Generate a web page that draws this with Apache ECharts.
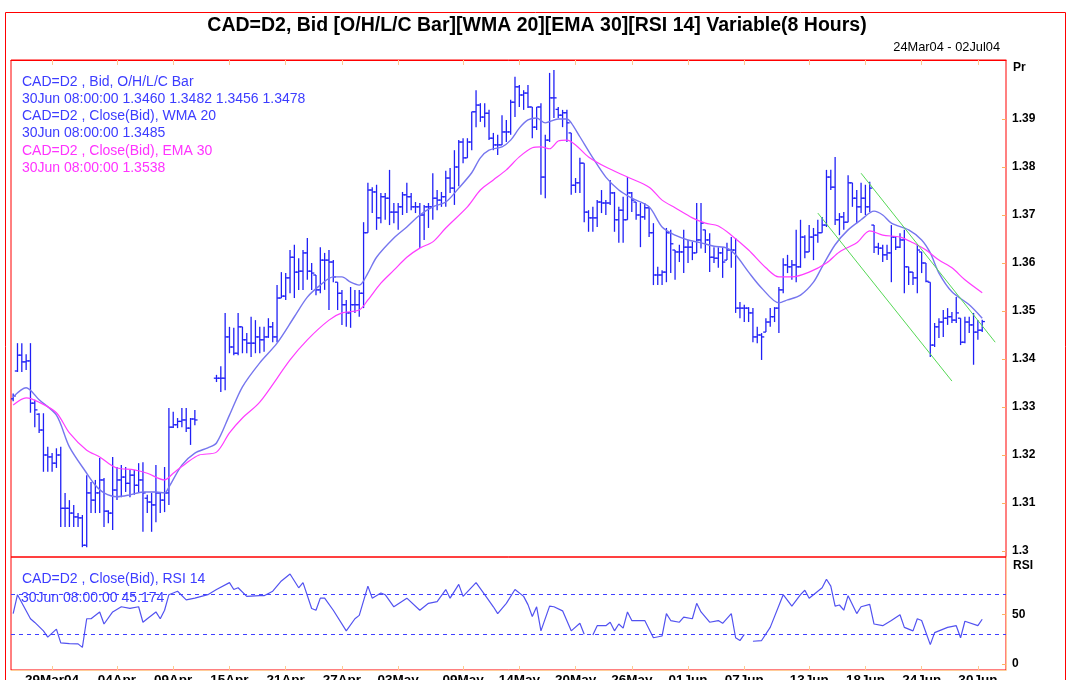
<!DOCTYPE html>
<html>
<head>
<meta charset="utf-8">
<script src="https://cdn.jsdelivr.net/npm/echarts@6/dist/echarts.min.js"></script>
<style>html,body{margin:0;padding:0;background:#fff}#c{width:1071px;height:680px}</style>
</head>
<body>
<div id="c"></div>
<script>
// ---------- DATA ----------
// 8-hour sessions: weekdays 00/08/16h, Sunday 16h only, none on Saturday
const firstBar = '2004-03-24T08:00:00Z';
const lastSlot = '2004-07-02T00:00:00Z';
const tickDays = ['2004-03-29','2004-04-04','2004-04-09','2004-04-15','2004-04-21','2004-04-27','2004-05-03','2004-05-09','2004-05-14','2004-05-20','2004-05-26','2004-06-01','2004-06-07','2004-06-13','2004-06-18','2004-06-24','2004-06-30'];
const tickLabels = ['29Mar04','04Apr','09Apr','15Apr','21Apr','27Apr','03May','09May','14May','20May','26May','01Jun','07Jun','13Jun','18Jun','24Jun','30Jun'];
const priceTicks = [1.3, 1.31, 1.32, 1.33, 1.34, 1.35, 1.36, 1.37, 1.38, 1.39];
const rsiTicks = [0, 50];
const rsiBands = [70, 30];

const open = [
1.3317,1.3375,1.3408,1.3394,1.3396,1.3308,1.3285,1.3252,1.3200,1.3196,
1.3183,1.3200,1.3089,1.3089,1.3079,1.3071,1.3069,1.3012,1.3121,1.3106,
1.3121,1.3148,1.3083,1.3079,1.3127,1.3148,1.3154,1.3141,1.3158,1.3137,
1.3148,1.3110,1.3102,1.3096,1.3121,1.3106,1.3121,1.3258,1.3263,1.3270,
1.3273,1.3256,1.3275,null,null,null,null,1.3360,1.3360,1.3360,
1.3446,1.3425,1.3412,1.3467,1.3440,1.3433,1.3433,1.3446,1.3440,1.3446,
1.3467,1.3446,1.3527,1.3531,1.3569,1.3612,1.3581,1.3583,1.3621,1.3583,
1.3575,1.3544,1.3606,1.3606,1.3602,1.3560,1.3537,1.3513,1.3496,1.3513,
1.3513,1.3537,1.3663,1.3752,1.3748,1.3694,1.3738,1.3735,1.3706,1.3706,
1.3717,1.3742,1.3738,1.3717,1.3717,1.3700,1.3717,1.3717,1.3735,1.3731,
1.3738,1.3777,1.3756,1.3800,1.3852,1.3819,1.3852,1.3915,1.3929,1.3904,
1.3912,1.3860,1.3846,1.3846,1.3873,1.3873,1.3935,1.3967,1.3950,1.3954,
1.3925,1.3883,1.3925,1.3779,1.3856,1.3944,1.3920,1.3908,1.3913,1.3871,
1.3762,1.3767,1.3808,1.3706,1.3694,1.3694,1.3727,1.3725,1.3725,1.3746,
1.3690,1.3710,1.3690,1.3746,1.3727,1.3700,1.3696,1.3715,1.3663,1.3575,
1.3575,1.3581,1.3663,1.3627,1.3623,1.3623,1.3633,1.3633,1.3621,1.3648,
1.3669,1.3648,1.3612,1.3610,1.3621,1.3606,1.3627,1.3627,1.3506,1.3506,
1.3506,1.3496,1.3446,1.3450,1.3456,1.3477,1.3488,1.3506,1.3544,1.3596,
1.3592,1.3596,1.3592,1.3654,1.3623,1.3654,1.3658,1.3663,1.3679,1.3779,
1.3758,1.3690,1.3696,1.3685,1.3767,1.3735,1.3717,1.3735,1.3717,1.3679,
1.3633,1.3631,1.3617,1.3621,1.3654,1.3633,1.3648,1.3592,1.3581,1.3569,
1.3623,1.3600,1.3560,1.3429,1.3467,1.3477,1.3485,1.3488,1.3481,1.3485,
1.3435,1.3477,1.3471,1.3456,1.3460];
const high = [
1.3328,1.3433,1.3433,1.3410,1.3433,1.3315,1.3287,1.3287,1.3217,1.3204,
1.3214,1.3217,1.3121,1.3106,1.3096,1.3079,1.3075,1.3158,1.3144,1.3148,
1.3194,1.3152,1.3085,1.3196,1.3175,1.3179,1.3175,1.3169,1.3169,1.3183,
1.3185,1.3117,1.3121,1.3179,1.3123,1.3175,1.3298,1.3290,1.3277,1.3298,
1.3298,1.3277,1.3294,null,null,null,null,1.3367,1.3385,1.3496,
1.3467,1.3465,1.3496,1.3467,1.3454,1.3488,1.3481,1.3467,1.3467,1.3485,
1.3477,1.3554,1.3581,1.3579,1.3627,1.3638,1.3610,1.3627,1.3652,1.3600,
1.3575,1.3633,1.3621,1.3627,1.3606,1.3560,1.3544,1.3523,1.3550,1.3544,
1.3544,1.3685,1.3767,1.3758,1.3763,1.3746,1.3746,1.3794,1.3725,1.3725,
1.3748,1.3767,1.3746,1.3727,1.3725,1.3721,1.3725,1.3787,1.3752,1.3748,
1.3792,1.3798,1.3835,1.3856,1.3860,1.3860,1.3915,1.3960,1.3933,1.3933,
1.3919,1.3871,1.3867,1.3908,1.3898,1.3940,1.3988,1.3971,1.3960,1.3971,
1.3925,1.3925,1.3933,1.3867,1.3996,1.4002,1.3925,1.3919,1.3919,1.3871,
1.3777,1.3819,1.3808,1.3710,1.3717,1.3731,1.3752,1.3731,1.3773,1.3748,
1.3717,1.3738,1.3779,1.3748,1.3727,1.3725,1.3725,1.3715,1.3683,1.3592,
1.3585,1.3673,1.3669,1.3627,1.3638,1.3669,1.3648,1.3644,1.3725,1.3725,
1.3669,1.3662,1.3633,1.3633,1.3633,1.3642,1.3654,1.3652,1.3519,1.3513,
1.3508,1.3506,1.3467,1.3454,1.3485,1.3506,1.3508,1.3550,1.3610,1.3617,
1.3606,1.3669,1.3690,1.3658,1.3679,1.3673,1.3690,1.3696,1.3794,1.3794,
1.3821,1.3704,1.3706,1.3783,1.3767,1.3752,1.3767,1.3763,1.3769,1.3679,
1.3642,1.3638,1.3638,1.3679,1.3654,1.3662,1.3669,1.3592,1.3581,1.3638,
1.3623,1.3600,1.3560,1.3475,1.3485,1.3502,1.3506,1.3498,1.3529,1.3485,
1.3488,1.3488,1.3496,1.3481,1.3482];
const low = [
1.3312,1.3373,1.3373,1.3377,1.3288,1.3258,1.3246,1.3165,1.3165,1.3165,
1.3173,1.3050,1.3050,1.3050,1.3050,1.3050,1.3008,1.3008,1.3079,1.3079,
1.3079,1.3050,1.3058,1.3044,1.3106,1.3112,1.3123,1.3112,1.3117,1.3121,
1.3040,1.3079,1.3040,1.3060,1.3079,1.3081,1.3096,1.3256,1.3256,1.3258,
1.3248,1.3221,1.3262,null,null,null,null,1.3352,1.3331,1.3335,
1.3412,1.3408,1.3408,1.3412,1.3412,1.3404,1.3412,1.3412,1.3415,1.3444,
1.3435,1.3435,1.3527,1.3523,1.3537,1.3527,1.3544,1.3544,1.3565,1.3544,
1.3533,1.3537,1.3544,1.3502,1.3560,1.3502,1.3471,1.3467,1.3465,1.3496,
1.3488,1.3506,1.3663,1.3704,1.3669,1.3683,1.3690,1.3679,1.3683,1.3669,
1.3700,1.3704,1.3710,1.3704,1.3631,1.3648,1.3673,1.3690,1.3710,1.3717,
1.3717,1.3746,1.3721,1.3760,1.3808,1.3819,1.3835,1.3883,1.3894,1.3883,
1.3856,1.3835,1.3825,1.3846,1.3852,1.3867,1.3904,1.3925,1.3919,1.3923,
1.3860,1.3877,1.3742,1.3735,1.3852,1.3902,1.3902,1.3883,1.3852,1.3742,
1.3746,1.3746,1.3685,1.3665,1.3665,1.3675,1.3704,1.3700,1.3721,1.3665,
1.3642,1.3642,1.3690,1.3706,1.3690,1.3633,1.3690,1.3654,1.3554,1.3554,
1.3554,1.3560,1.3579,1.3565,1.3602,1.3579,1.3600,1.3606,1.3621,1.3630,
1.3621,1.3581,1.3600,1.3590,1.3569,1.3606,1.3590,1.3496,1.3485,1.3477,
1.3477,1.3435,1.3433,1.3398,1.3456,1.3467,1.3477,1.3454,1.3537,1.3579,
1.3565,1.3560,1.3590,1.3610,1.3623,1.3606,1.3642,1.3663,1.3675,1.3752,
1.3679,1.3658,1.3669,1.3685,1.3717,1.3683,1.3704,1.3700,1.3706,1.3621,
1.3617,1.3602,1.3606,1.3560,1.3627,1.3631,1.3537,1.3554,1.3554,1.3537,
1.3579,1.3560,1.3404,1.3425,1.3444,1.3446,1.3471,1.3475,1.3475,1.3429,
1.3433,1.3454,1.3388,1.3440,1.3456];
const close = [
1.3323,1.3408,1.3394,1.3396,1.3308,1.3294,1.3252,1.3200,1.3196,1.3183,
1.3200,1.3089,1.3089,1.3079,1.3071,1.3069,1.3012,1.3121,1.3106,1.3121,
1.3148,1.3083,1.3079,1.3127,1.3148,1.3154,1.3141,1.3158,1.3137,1.3148,
1.3121,1.3102,1.3096,1.3121,1.3106,1.3121,1.3258,1.3263,1.3270,1.3273,
1.3256,1.3275,1.3273,null,null,null,null,1.3360,1.3360,1.3446,
1.3425,1.3412,1.3467,1.3440,1.3433,1.3433,1.3446,1.3440,1.3446,1.3467,
1.3446,1.3527,1.3531,1.3569,1.3612,1.3581,1.3583,1.3621,1.3583,1.3579,
1.3544,1.3606,1.3606,1.3602,1.3571,1.3537,1.3513,1.3496,1.3513,1.3513,
1.3537,1.3663,1.3752,1.3748,1.3694,1.3738,1.3735,1.3706,1.3706,1.3717,
1.3742,1.3738,1.3717,1.3717,1.3700,1.3717,1.3717,1.3735,1.3731,1.3738,
1.3777,1.3756,1.3800,1.3852,1.3819,1.3852,1.3915,1.3929,1.3904,1.3912,
1.3860,1.3846,1.3846,1.3873,1.3873,1.3935,1.3967,1.3950,1.3954,1.3925,
1.3883,1.3925,1.3779,1.3856,1.3944,1.3944,1.3908,1.3913,1.3892,1.3762,
1.3767,1.3808,1.3706,1.3694,1.3694,1.3727,1.3725,1.3725,1.3746,1.3690,
1.3710,1.3690,1.3746,1.3731,1.3700,1.3696,1.3715,1.3663,1.3575,1.3575,
1.3581,1.3663,1.3640,1.3623,1.3623,1.3633,1.3633,1.3621,1.3648,1.3683,
1.3648,1.3612,1.3610,1.3621,1.3602,1.3627,1.3627,1.3506,1.3506,1.3506,
1.3496,1.3446,1.3450,1.3446,1.3477,1.3488,1.3506,1.3544,1.3596,1.3592,
1.3596,1.3592,1.3654,1.3623,1.3654,1.3658,1.3663,1.3679,1.3779,1.3758,
1.3690,1.3696,1.3685,1.3767,1.3735,1.3717,1.3735,1.3717,1.3756,1.3633,
1.3631,1.3617,1.3621,1.3654,1.3633,1.3648,1.3592,1.3581,1.3569,1.3627,
1.3600,1.3562,1.3429,1.3467,1.3477,1.3485,1.3488,1.3481,1.3496,1.3435,
1.3477,1.3471,1.3456,1.3460,1.3478];

// [bar index, value]
const wma20 = [[0,1.3321],[3,1.3340],[6,1.3315],[10,1.3283],[13,1.3217],[17,1.3162],[19,1.3137],[21,1.3121],[24,1.3113],[27,1.3117],
[30,1.3123],[33,1.3123],[35,1.3121],[36,1.3133],[39,1.3179],[42,1.3204],[45,1.3215],[47,1.3225],[50,1.3283],[53,1.3342],
[57,1.3392],[61,1.3433],[65,1.3488],[68,1.3529],[71,1.3554],[74,1.3571],[76,1.3571],[78,1.3560],[80,1.3554],[82,1.3579],
[84,1.3612],[88,1.3652],[91,1.3675],[94,1.3700],[97,1.3717],[100,1.3727],[103,1.3756],[106,1.3788],[108,1.3819],[110,1.3835],
[113,1.3842],[115,1.3856],[117,1.3881],[119,1.3898],[121,1.3902],[123,1.3892],[126,1.3900],[128,1.3900],[129,1.3892],[131,1.3863],
[134,1.3819],[137,1.3779],[140,1.3752],[143,1.3735],[147,1.3717],[150,1.3675],[153,1.3658],[156,1.3648],[159,1.3642],[162,1.3635],
[165,1.3631],[167,1.3617],[170,1.3581],[173,1.3548],[177,1.3517],[179,1.3523],[182,1.3533],[185,1.3560],[187,1.3592],[190,1.3638],
[193,1.3669],[196,1.3690],[199,1.3708],[201,1.3700],[203,1.3683],[207,1.3669],[210,1.3648],[212,1.3621],[214,1.3579],[217,1.3540],
[221,1.3513],[224,1.3485]];
const ema30 = [[0,1.3304],[3,1.3319],[6,1.3310],[10,1.3288],[13,1.3246],[17,1.3210],[20,1.3196],[22,1.3183],[24,1.3173],[28,1.3169],
[31,1.3162],[35,1.3148],[37,1.3162],[40,1.3183],[43,1.3200],[47,1.3206],[50,1.3246],[53,1.3277],[57,1.3310],[64,1.3398],
[68,1.3440],[73,1.3481],[76,1.3496],[80,1.3502],[82,1.3523],[85,1.3558],[88,1.3585],[91,1.3612],[94,1.3631],[97,1.3644],
[100,1.3673],[105,1.3717],[108,1.3752],[111,1.3773],[114,1.3794],[117,1.3821],[120,1.3840],[122,1.3842],[124,1.3838],[126,1.3854],
[128,1.3856],[130,1.3846],[133,1.3821],[137,1.3800],[142,1.3779],[147,1.3758],[150,1.3731],[153,1.3715],[157,1.3694],[160,1.3683],
[163,1.3677],[166,1.3658],[170,1.3627],[174,1.3590],[177,1.3571],[180,1.3571],[184,1.3581],[188,1.3600],[191,1.3623],[195,1.3642],
[198,1.3667],[201,1.3658],[205,1.3654],[208,1.3642],[211,1.3627],[214,1.3606],[217,1.3590],[220,1.3565],[224,1.3538]];
const rsi14 = [[0,50.9],[1,70],[4,45.7],[5,42],[7,33.5],[8,27.2],[10,35.2],[11,21.3],[13,20.6],[15,20.3],
[16,16.8],[17,45.7],[18,45.7],[20,52.6],[21,40.4],[23,52.6],[25,57.8],[27,56.1],[29,57.8],[30,42.2],
[31,45.7],[33,52.6],[34,45.7],[35,54.3],[36,70],[38,73.5],[40,64.8],[42,66.5],[45,70],[47,75.2],
[50,82.2],[51,75.2],[52,77],[54,68.3],[57,69],[58,69],[60,73.5],[62,83.9],[64,90.9],[66,77],
[67,82.2],[69,56.1],[70,54.3],[71,66.5],[72,66.5],[74,54.3],[77,33.5],[79,45.7],[80,49.1],[82,78.7],
[83,66.5],[85,71.7],[86,70],[88,57.8],[91,66.5],[94,54.3],[96,61.3],[98,63],[100,75.2],[101,66.5],
[103,80.4],[104,68.3],[107,82.2],[109,70],[111,57.8],[112,50.9],[114,61.3],[116,75.2],[118,68.3],[119,60],
[120,48],[121,57.8],[122,33.5],[124,58.5],[125,57.8],[127,53.7],[129,33.5],[131,41.1],[132,30],[133,null],
[134,29.3],[135,38.7],[137,38.7],[138,42.2],[139,33.5],[140,40.4],[141,36.3],[142,52.6],[143,43.9],[146,43.9],
[148,26.5],[150,28.3],[151,50.9],[152,43.9],[154,42.2],[155,47.4],[157,45.7],[158,61.3],[159,52.6],[161,42.2],
[163,43.9],[164,41.1],[166,50.9],[167,26.5],[168,23.7],[169,30],[170,null],[171,23],[173,23.7],[175,37],
[178,70],[180,58.5],[182,70],[183,74.5],[184,66.5],[186,73.5],[187,77],[188,85.6],[189,78.7],[190,58.5],
[191,59.6],[192,54.3],[193,69],[195,50.9],[196,57.8],[198,60.3],[199,40.4],[201,38.7],[203,43.9],[205,49.8],
[206,37],[208,33.5],[209,45.7],[210,43.9],[212,19.6],[213,31.7],[216,37],[218,38.7],[219,26.5],[220,43.2],
[223,38.7],[224,45.174]];
const trendUpper = [[196,1.3787],[227,1.3435]];
const trendLower = [[186,1.3704],[217,1.3354]];

// ---------- BUILD ----------
const MONTHS = ['Jan','Feb','Mar','Apr','May','Jun','Jul','Aug','Sep','Oct','Nov','Dec'];
const categories = [], dayKeys = [];
for (let t = Date.parse(firstBar); t <= Date.parse(lastSlot); t += 8 * 3600e3) {
  const d = new Date(t), dow = d.getUTCDay(), h = d.getUTCHours();
  if (dow === 6) continue;
  if (dow === 0 && h !== 16) continue;
  const dd = String(d.getUTCDate()).padStart(2, '0'), hh = String(h).padStart(2, '0');
  categories.push(dd + MONTHS[d.getUTCMonth()] + ' ' + hh + ':00:00');
  dayKeys.push(d.toISOString().slice(0, 10));
}
const tickIdx = tickDays.map(k => dayKeys.indexOf(k));
const tickSet = new Set(tickIdx);
const labelAt = {};
tickIdx.forEach((ix, k) => { labelAt[ix] = tickLabels[k]; });

const ohlc = [];
for (let i = 0; i < open.length; i++) {
  if (open[i] != null) ohlc.push([i, open[i], high[i], low[i], close[i]]);
}

const FONT = 'Liberation Sans';
const BAR = '#2020f6';
const chart = echarts.init(document.getElementById('c'));

function txt(x, y, text, color, size, weight, align) {
  return { type: 'text', x: x, y: y, silent: true, z: 50,
    style: { text: text, fill: color, font: (weight || 'normal') + ' ' + size + 'px "' + FONT + '"',
      align: align || 'left', verticalAlign: 'middle' } };
}

chart.setOption({
  animation: false,
  backgroundColor: '#ffffff',
  grid: [
    { left: 11, top: 60, width: 995, height: 497, show: true, borderColor: '#ff0000', borderWidth: 1,
      containLabel: false, outerBoundsMode: 'none' },
    { left: 11, top: 557, width: 995, height: 113, show: true, borderColor: '#ff0000', borderWidth: 1,
      containLabel: false, outerBoundsMode: 'none' }
  ],
  xAxis: [
    { type: 'category', gridIndex: 0, data: categories, position: 'top', boundaryGap: true,
      axisLine: { show: true, onZero: false, lineStyle: { color: '#ff0000' } },
      axisTick: { show: true, inside: true, length: 5, alignWithLabel: true,
        interval: (i) => tickSet.has(i), lineStyle: { color: '#ffc890' } },
      axisLabel: { show: false }, splitLine: { show: false } },
    { type: 'category', gridIndex: 1, data: categories, position: 'bottom', boundaryGap: true,
      axisLine: { show: true, onZero: false, lineStyle: { color: '#ffcc99' } },
      axisTick: { show: true, inside: true, length: 4, alignWithLabel: true,
        interval: (i) => tickSet.has(i), lineStyle: { color: '#ffc890' } },
      axisLabel: { show: true, interval: (i) => tickSet.has(i), formatter: (v, i) => labelAt[i] || '',
        color: '#000', fontWeight: 'bold', fontSize: 13.5, fontFamily: FONT, margin: 3 },
      splitLine: { show: false } }
  ],
  yAxis: [
    { type: 'value', gridIndex: 0, position: 'right', min: 1.29875, max: 1.40229,
      axisLine: { show: true, onZero: false, lineStyle: { color: '#ff8080' } },
      axisTick: { show: true, inside: true, length: 4, customValues: priceTicks, lineStyle: { color: '#ffb060' } },
      axisLabel: { show: true, customValues: priceTicks, formatter: (v) => String(v),
        color: '#000', fontWeight: 'bold', fontSize: 12, fontFamily: FONT, margin: 6 },
      splitLine: { show: false } },
    { type: 'value', gridIndex: 1, position: 'right', min: -6.06, max: 108.08,
      axisLine: { show: true, onZero: false, lineStyle: { color: '#ffcc99' } },
      axisTick: { show: true, inside: true, length: 4, customValues: rsiTicks, lineStyle: { color: '#ffb060' } },
      axisLabel: { show: true, customValues: rsiTicks, formatter: (v) => String(v),
        color: '#000', fontWeight: 'bold', fontSize: 12, fontFamily: FONT, margin: 6 },
      splitLine: { show: false } }
  ],
  series: [
    { type: 'custom', name: 'OHLC', xAxisIndex: 0, yAxisIndex: 0, data: ohlc, clip: true,
      encode: { x: 0, y: [1, 2, 3, 4] },
      renderItem: function (params, api) {
        const i = api.value(0);
        const pO = api.coord([i, api.value(1)]);
        const pH = api.coord([i, api.value(2)]);
        const pL = api.coord([i, api.value(3)]);
        const pC = api.coord([i, api.value(4)]);
        const w = api.size([1, 0])[0] * 0.62;
        const st = { stroke: BAR, lineWidth: 1.3 };
        return { type: 'group', children: [
          { type: 'line', shape: { x1: pH[0], y1: pH[1], x2: pL[0], y2: pL[1] }, style: st },
          { type: 'line', shape: { x1: pO[0] - w, y1: pO[1], x2: pO[0], y2: pO[1] }, style: st },
          { type: 'line', shape: { x1: pC[0], y1: pC[1], x2: pC[0] + w, y2: pC[1] }, style: st }
        ] };
      } },
    { type: 'line', name: 'WMA 20', xAxisIndex: 0, yAxisIndex: 0, data: wma20, showSymbol: false, smooth: 0.3,
      lineStyle: { color: '#7676ee', width: 1.4 }, z: 3 },
    { type: 'line', name: 'EMA 30', xAxisIndex: 0, yAxisIndex: 0, data: ema30, showSymbol: false, smooth: 0.3,
      lineStyle: { color: '#ff3cff', width: 1.2 }, z: 3 },
    { type: 'line', name: 'trend1', xAxisIndex: 0, yAxisIndex: 0, data: trendUpper, showSymbol: false,
      lineStyle: { color: '#55d855', width: 1 }, z: 4 },
    { type: 'line', name: 'trend2', xAxisIndex: 0, yAxisIndex: 0, data: trendLower, showSymbol: false,
      lineStyle: { color: '#55d855', width: 1 }, z: 4 },
    { type: 'line', name: 'RSI 14', xAxisIndex: 1, yAxisIndex: 1, data: rsi14, showSymbol: false, connectNulls: false,
      lineStyle: { color: '#5252f0', width: 1.2 },
      markLine: { silent: true, symbol: ['none', 'none'], label: { show: false },
        lineStyle: { color: '#4040ff', type: [4, 4], width: 1 },
        data: rsiBands.map(v => ({ yAxis: v })) } }
  ],
  graphic: [
    { type: 'rect', silent: true, z: 60, shape: { x: 5.5, y: 12.5, width: 1060, height: 700 },
      style: { fill: 'none', stroke: '#ff0000', lineWidth: 1 } },
    txt(537, 26, 'CAD=D2, Bid [O/H/L/C Bar][WMA 20][EMA 30][RSI 14] Variable(8 Hours)', '#000', 19.5, 'bold', 'center'),
    txt(1000, 47, '24Mar04 - 02Jul04', '#000', 12.8, 'normal', 'right'),
    txt(22, 81.7, 'CAD=D2 , Bid, O/H/L/C Bar', '#3c3cff', 14),
    txt(22, 99, '30Jun 08:00:00 1.3460 1.3482 1.3456 1.3478', '#3c3cff', 14),
    txt(22, 116.2, 'CAD=D2 , Close(Bid), WMA 20', '#3c3cff', 14),
    txt(22, 133.4, '30Jun 08:00:00 1.3485', '#3c3cff', 14),
    txt(22, 150.7, 'CAD=D2 , Close(Bid), EMA 30', '#ff33ff', 14),
    txt(22, 167.8, '30Jun 08:00:00 1.3538', '#ff33ff', 14),
    txt(22, 579.5, 'CAD=D2 , Close(Bid), RSI 14', '#3c3cff', 14),
    txt(21, 598.5, '30Jun 08:00:00 45.174', '#3c3cff', 14),
    txt(1013, 68, 'Pr', '#000', 12, 'bold'),
    txt(1013, 566, 'RSI', '#000', 12, 'bold')
  ]
});
</script>
</body>
</html>
